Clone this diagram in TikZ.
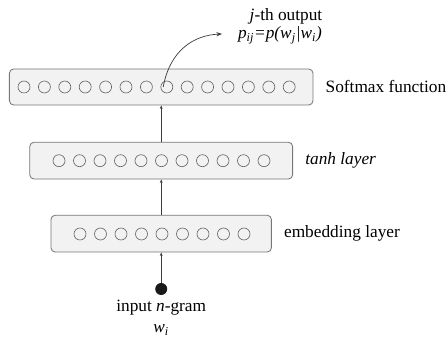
\documentclass[tikz,border=0pt]{standalone}
\usepackage{fontspec}
\setmainfont{Liberation Serif}
\usepackage{xcolor}
\usepackage{tikz}
\usetikzlibrary{arrows.meta, positioning}
\definecolor{layerfill}{RGB}{242, 242, 242}
\definecolor{layerline}{RGB}{120, 120, 120}
\definecolor{unitline}{RGB}{100, 100, 100}
\definecolor{darkgray}{RGB}{60, 60, 60}

\begin{document}
\begin{tikzpicture}[
    font=\fontsize{12.3pt}{14pt}\selectfont,
    layer/.style={draw=layerline, rounded corners=3pt, fill=layerfill,
                  line width=0.6pt, minimum height=0.92cm},
    unit/.style={circle, draw=unitline, line width=0.45pt, minimum size=0.3cm,
                 inner sep=0pt},
    label/.style={anchor=west, inner sep=0pt},
    arrow/.style={-{Stealth[length=2.5pt, width=2pt]}, line width=0.5pt, darkgray}
]
    \useasboundingbox (0,0) rectangle (11.15,8.5);

    % Layers
    \node[layer, minimum width=7.59cm, minimum height=0.9cm] (softmax) at (4.03,6.325) {};
    \node[layer, minimum width=6.57cm] (tanh) at (4.03,4.484) {};
    \node[layer, minimum width=5.51cm] (embed) at (4.03,2.659) {};

    % Units
    \foreach \i in {0,...,13}
        \node[unit] (s\i) at (0.6+0.51*\i,6.325) {};
    \foreach \i in {0,...,10}
        \node[unit] (t\i) at (1.475+0.5125*\i,4.4825) {};
    \foreach \i in {0,...,8}
        \node[unit] (e\i) at (2.0+0.5125*\i,2.65) {};

    % Layer labels
    \node[label, right=0.3cm of softmax] (softlabel) {Softmax function};
    \node[label, right=0.3cm of tanh] (tanhlabel) {\itshape tanh layer};
    \node[label, right=0.3cm of embed] (embedlabel) {embedding layer};

    % Input
    \node[circle, fill=black!90, minimum size=0.3cm, inner sep=0pt] (input) at (4.03,1.275) {};
    \node (ngram) at (4.03,0.8) {input \textit{n}-gram};
    \node (wi) at (4.03,0.25) {\textit{w\textsubscript{i}}};

    % Output
    \node (jth) at (7.15,8.1) {\textit{j}-th output};
    \node (pij) at (7.0,7.62) {\itshape p\textsubscript{ij}=p(w\textsubscript{j}|w\textsubscript{i})};
    \coordinate (outtip) at (5.55,7.65);

    % Connections
    \draw[arrow] (input) -- (embed.south);
    \draw[arrow] (embed.north) -- (tanh.south);
    \draw[arrow] (tanh.north) -- (softmax.south);
    \draw[-{Stealth[length=4pt, width=3pt]}, line width=0.5pt, darkgray]
        ([xshift=-0.09cm]s7.center) .. controls (4.25,7.25) and (4.85,7.62) .. (outtip);
\end{tikzpicture}
\end{document}
